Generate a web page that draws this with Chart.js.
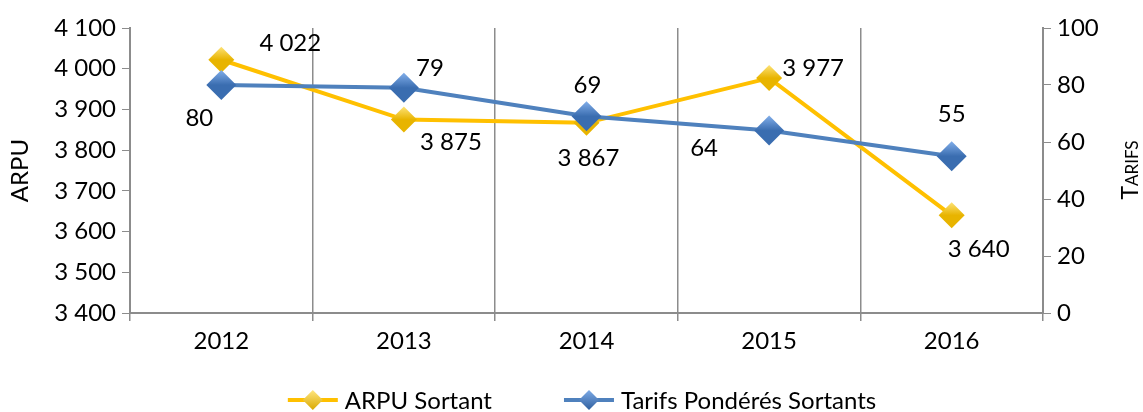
<!DOCTYPE html>
<html>
<head>
<meta charset="utf-8">
<script src="https://cdn.jsdelivr.net/npm/chart.js@4"></script>
<style>
  body { margin: 0; background: #fff; }
  #wrap { width: 1143px; height: 412px; position: relative; }
</style>
</head>
<body>
<div id="wrap"><canvas id="myChart"></canvas></div>
<script>
// données
const years = ['2012', '2013', '2014', '2015', '2016'];
const arpuSortant = [4022, 3875, 3867, 3977, 3640];
const tarifsSortants = [80, 79, 69, 64, 55];
const arpuTicks = [3400, 3500, 3600, 3700, 3800, 3900, 4000, 4100];
const tarifsTicks = [0, 20, 40, 60, 80, 100];

const FONT = 'Lato, "Open Sans", sans-serif';
const FS = 24;

// décalage des étiquettes par point (style uniquement)
const arpuLabelOffset = [[69, -16], [47, 23], [2, 35], [44, -10], [27, 34]];
const tarifsLabelOffset = [[-22, 33], [26, -20], [1, -31], [-65, 18], [0, -42]];

function fmt(v) {
  return String(v).replace(/\B(?=(\d{3})+(?!\d))/g, ' ');
}

function diamondFill(ctx, light, dark) {
  const c = ctx.chart.ctx;
  const el = ctx.element;
  if (!el || el.x === undefined) return dark;
  const g = c.createLinearGradient(el.x, el.y - 14, el.x, el.y + 14);
  g.addColorStop(0, light);
  g.addColorStop(0.5, dark);
  g.addColorStop(1, dark);
  return g;
}

function drawDiamond(c, x, y, r, light, dark) {
  const g = c.createLinearGradient(0, y - r, 0, y + r);
  g.addColorStop(0, light); g.addColorStop(1, dark);
  c.fillStyle = g;
  c.beginPath();
  c.moveTo(x, y - r); c.lineTo(x + r, y); c.lineTo(x, y + r); c.lineTo(x - r, y); c.closePath();
  c.fill();
}

const labelPlugin = {
  id: 'labels',
  afterDatasetsDraw(chart) {
    const c = chart.ctx;
    c.save();
    c.font = FS + 'px ' + FONT;
    c.fillStyle = '#000';
    c.textAlign = 'center';
    c.textBaseline = 'middle';
    chart.data.datasets.forEach((ds, i) => {
      const meta = chart.getDatasetMeta(i);
      meta.data.forEach((pt, j) => {
        const off = ds.labelOffset[j];
        c.fillText(fmt(ds.data[j]), pt.x + off[0], pt.y + off[1]);
      });
    });
    c.restore();
  },
  afterDraw(chart) {
    const c = chart.ctx;
    c.save();
    // légende : trait + losange + texte
    c.textBaseline = 'middle';
    c.font = FS + 'px ' + FONT;
    const items = chart.data.datasets;
    const gap = 72, icon = 50, tgap = 7;
    let total = 0;
    items.forEach((ds, i) => {
      total += icon + tgap + c.measureText(ds.label).width + (i ? gap : 0);
    });
    let x = 582 - total / 2;
    const y = 400;
    items.forEach((ds, i) => {
      if (i) x += gap;
      c.strokeStyle = ds.borderColor;
      c.lineWidth = 4;
      c.beginPath(); c.moveTo(x, y); c.lineTo(x + icon, y); c.stroke();
      drawDiamond(c, x + icon / 2, y, 10, ds.lightColor, ds.darkColor);
      x += icon + tgap;
      c.fillStyle = '#000';
      c.textAlign = 'left';
      c.fillText(ds.label, x, y + 1);
      x += c.measureText(ds.label).width;
    });
    // titre de l'axe droit en petites capitales
    c.translate(1131, 170);
    c.rotate(-Math.PI / 2);
    c.textAlign = 'left';
    c.font = '23px ' + FONT;
    const w1 = c.measureText('T').width;
    c.font = '17px ' + FONT;
    const w2 = c.measureText('ARIFS').width;
    const x0 = -(w1 + w2) / 2;
    c.font = '23px ' + FONT;
    c.fillText('T', x0, 0);
    c.font = '17px ' + FONT;
    c.fillText('ARIFS', x0 + w1, 2);
    c.restore();
  }
};

const ctx = document.getElementById('myChart');

new Chart(ctx, {
  type: 'line',
  data: {
    labels: years,
    datasets: [{
      label: 'ARPU Sortant',
      data: arpuSortant,
      yAxisID: 'y',
      borderColor: '#FFC000',
      borderWidth: 4,
      pointStyle: 'rectRot',
      pointRadius: 13,
      pointHoverRadius: 13,
      pointBorderWidth: 0,
      backgroundColor: (c) => diamondFill(c, '#FFE680', '#E8B400'),
      lightColor: '#FFE680',
      darkColor: '#D9A800',
      tension: 0,
      order: 2,
      labelOffset: arpuLabelOffset
    }, {
      label: 'Tarifs Pondérés Sortants',
      data: tarifsSortants,
      yAxisID: 'y1',
      borderColor: '#4F81BD',
      borderWidth: 4,
      pointStyle: 'rectRot',
      pointRadius: 15,
      pointHoverRadius: 15,
      pointBorderWidth: 0,
      backgroundColor: (c) => diamondFill(c, '#7DAAE6', '#3A6DB0'),
      lightColor: '#7DAAE6',
      darkColor: '#2F5F9E',
      tension: 0,
      order: 1,
      labelOffset: tarifsLabelOffset
    }]
  },
  options: {
    responsive: true,
    maintainAspectRatio: false,
    animation: false,
    layout: { padding: { top: 28, bottom: 0 } },
    plugins: {
      title: { display: false },
      tooltip: { enabled: false },
      legend: { display: false }
    },
    scales: {
      x: {
        offset: true,
        grid: {
          offset: true,
          color: '#8c8c8c',
          lineWidth: 1.5,
          tickLength: 8,
          drawOnChartArea: true
        },
        border: { color: '#8c8c8c', width: 2 },
        ticks: { font: { family: FONT, size: FS }, color: '#000', padding: 6 },
        afterFit: (s) => { s.height = 99; }
      },
      y: {
        position: 'left',
        min: 3400,
        max: 4100,
        afterBuildTicks: (s) => { s.ticks = arpuTicks.map(v => ({ value: v })); },
        grid: { drawOnChartArea: false, color: '#8c8c8c', tickLength: 8 },
        border: { color: '#8c8c8c', width: 2 },
        ticks: {
          font: { family: FONT, size: FS }, color: '#000', padding: 6,
          callback: (v) => fmt(v)
        },
        title: {
          display: true, text: 'ARPU', color: '#000',
          font: { family: FONT, size: FS }, padding: { top: 6, bottom: 0 }
        },
        afterFit: (s) => { s.width = 130; }
      },
      y1: {
        position: 'right',
        min: 0,
        max: 100,
        afterBuildTicks: (s) => { s.ticks = tarifsTicks.map(v => ({ value: v })); },
        grid: { drawOnChartArea: false, color: '#8c8c8c', tickLength: 8 },
        border: { color: '#8c8c8c', width: 2 },
        ticks: { font: { family: FONT, size: FS }, color: '#000', padding: 6 },
        afterFit: (s) => { s.width = 100; }
      }
    }
  },
  plugins: [labelPlugin]
});
</script>
</body>
</html>
